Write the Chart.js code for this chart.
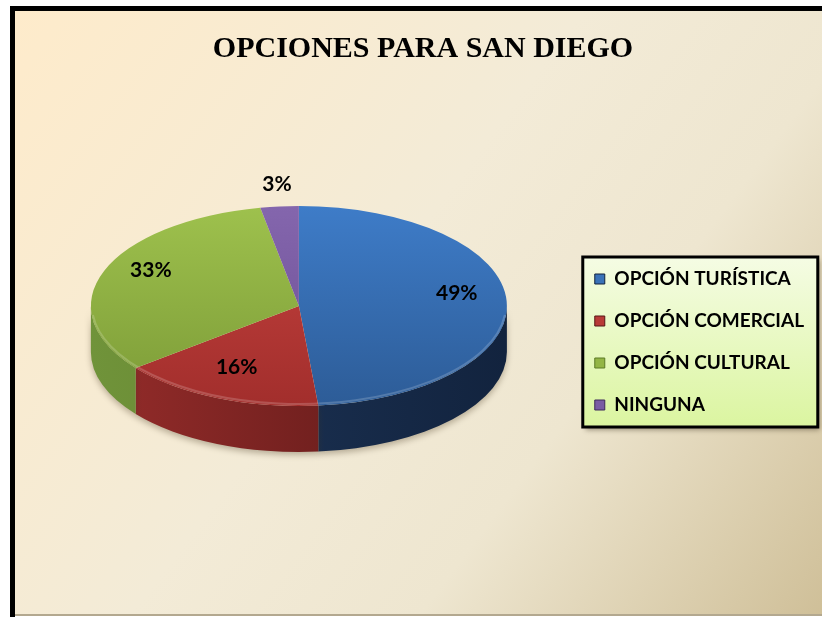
<!DOCTYPE html>
<html>
<head>
<meta charset="utf-8">
<script src="https://cdn.jsdelivr.net/npm/chart.js@4.4.1/dist/chart.umd.min.js"></script>
<style>
  html, body { margin: 0; padding: 0; background: #fff; }
  #wrap { width: 822px; height: 617px; }
</style>
</head>
<body>
<div id="wrap"><canvas id="pieChart" width="822" height="617"></canvas></div>
<script>
const chartTitle = "OPCIONES PARA SAN DIEGO";
const categories = ["OPCIÓN TURÍSTICA", "OPCIÓN COMERCIAL", "OPCIÓN CULTURAL", "NINGUNA"];
const percentages = [49, 16, 33, 3];

// top face [light, dark], side wall [light, dark], legend swatch
const topColors = [["#3e7cc8", "#2d5c97"], ["#c6433f", "#a22e2c"], ["#9ec14d", "#7c9b37"], ["#8466ad", "#6b4d94"]];
const sideColors = [["#1f385c", "#12233e"], ["#952c2a", "#561716"], ["#70933a", "#5c7a27"], ["#503872", "#3e2a5a"]];
const legendColors = ["#3a72b8", "#b83a37", "#93b545", "#7a5ca3"];

const PIE_CY = 306;    // screen centre of the top face
const PIE_RY = 100;    // vertical radius of the top face
const PIE_DEPTH = 46;  // thickness of the pie
const PIE_R = 208;

function topGradient(c) {
    const chart = c.chart;
    const area = chart.chartArea;
    const i = c.dataIndex;
    if (!area) return legendColors[i];
    const cy = (area.top + area.bottom) / 2;
    const g = chart.ctx.createLinearGradient(0, cy - PIE_R, 0, cy + PIE_R);
    g.addColorStop(0, topColors[i][0]);
    g.addColorStop(1, topColors[i][1]);
    return g;
}

const pie3d = {
    id: "pie3d",
    beforeDraw(chart) {
        const ctx = chart.ctx;
        ctx.save();
        // page and frame
        ctx.fillStyle = "#fff";
        ctx.fillRect(0, 0, 822, 617);
        const bg = ctx.createLinearGradient(15, 11, 822, 617);
        bg.addColorStop(0, "#feebcb");
        bg.addColorStop(0.45, "#f3ebd7");
        bg.addColorStop(0.68, "#eee6d0");
        bg.addColorStop(1, "#cfbf98");
        ctx.fillStyle = bg;
        ctx.fillRect(15, 11, 807, 603);
        ctx.fillStyle = "#000";
        ctx.fillRect(10, 6, 5, 611);
        ctx.fillRect(10, 6, 812, 5);
        ctx.fillStyle = "#b3a88f";
        ctx.fillRect(15, 614, 807, 2);

        // title
        ctx.fillStyle = "#000";
        ctx.font = "bold 30px 'Liberation Serif'";
        ctx.textAlign = "center";
        ctx.textBaseline = "alphabetic";
        ctx.fillText(chartTitle, 423, 57);

        // legend frame
        const boxes = chart.legend.legendHitBoxes;
        if (boxes && boxes.length) {
            const first = boxes[0], last = boxes[boxes.length - 1];
            const left = first.left - 12;
            const top = first.top + first.height / 2 - 22;
            const bottom = last.top + last.height / 2 + 22;
            const w = 235, h = bottom - top;
            ctx.shadowColor = "rgba(60,50,30,0.45)";
            ctx.shadowBlur = 5;
            ctx.shadowOffsetX = 2;
            ctx.shadowOffsetY = 3;
            const lg = ctx.createLinearGradient(0, top, 0, bottom);
            lg.addColorStop(0, "#f5fce4");
            lg.addColorStop(1, "#dbf5a0");
            ctx.fillStyle = lg;
            ctx.fillRect(left, top, w, h);
            ctx.shadowColor = "transparent";
            ctx.lineWidth = 3;
            ctx.strokeStyle = "#000";
            ctx.strokeRect(left, top, w, h);
        }
        ctx.restore();
    },
    beforeDatasetsDraw(chart) {
        const ctx = chart.ctx;
        const arcs = chart.getDatasetMeta(0).data;
        if (!arcs.length) return;
        const cx = arcs[0].x, cy = arcs[0].y, R = arcs[0].outerRadius;

        // side walls on the front half
        ctx.save();
        ctx.shadowColor = "rgba(70,55,30,0.35)";
        ctx.shadowBlur = 6;
        ctx.shadowOffsetY = 3;
        arcs.forEach((arc, i) => {
            const a0 = Math.max(arc.startAngle, 0);
            const a1 = Math.min(arc.endAngle, Math.PI);
            if (a1 <= a0) return;
            const g = ctx.createLinearGradient(cx - R, 0, cx + R, 0);
            g.addColorStop(0, sideColors[i][0]);
            g.addColorStop(1, sideColors[i][1]);
            ctx.beginPath();
            ctx.ellipse(cx, PIE_CY + PIE_DEPTH, R, PIE_RY, 0, a0, a1);
            ctx.lineTo(cx + R * Math.cos(a1), PIE_CY + PIE_RY * Math.sin(a1));
            ctx.ellipse(cx, PIE_CY, R, PIE_RY, 0, a1, a0, true);
            ctx.closePath();
            ctx.fillStyle = g;
            ctx.fill();
        });
        ctx.restore();

        // squash the flat pie into the top face
        ctx.save();
        ctx.translate(0, PIE_CY);
        ctx.scale(1, PIE_RY / R);
        ctx.translate(0, -cy);
    },
    afterDatasetsDraw(chart) {
        const ctx = chart.ctx;
        const arcs = chart.getDatasetMeta(0).data;
        if (!arcs.length) return;
        ctx.restore();
        const cx = arcs[0].x, R = arcs[0].outerRadius;

        // soft rim on the front edge
        ctx.save();
        ctx.beginPath();
        ctx.ellipse(cx, PIE_CY - 1, R - 1, PIE_RY - 1, 0, 0.1, Math.PI - 0.1);
        ctx.strokeStyle = "rgba(255,255,255,0.18)";
        ctx.lineWidth = 2;
        ctx.stroke();
        ctx.restore();

        // value labels
        const total = percentages.reduce((a, b) => a + b, 0);
        ctx.save();
        ctx.font = "bold 21px Lato";
        ctx.fillStyle = "#000";
        ctx.textAlign = "center";
        ctx.textBaseline = "middle";
        arcs.forEach((arc, i) => {
            const mid = (arc.startAngle + arc.endAngle) / 2;
            const f = percentages[i] / total < 0.05 ? 1.13 : 0.76;
            const x = cx + R * f * Math.cos(mid);
            const y = PIE_CY + PIE_RY * f * Math.sin(mid) - 9;
            ctx.fillText(percentages[i] + "%", x, y);
        });
        ctx.restore();
    }
};

new Chart(document.getElementById("pieChart"), {
    type: "pie",
    data: {
        labels: categories,
        datasets: [{
            data: percentages,
            backgroundColor: topGradient,
            borderWidth: 0,
            radius: PIE_R,
            clip: false
        }]
    },
    options: {
        responsive: false,
        devicePixelRatio: 1,
        animation: false,
        layout: { padding: { left: 26, right: 8, top: 70, bottom: 3 } },
        plugins: {
            title: { display: false },
            tooltip: { enabled: false },
            legend: {
                position: "right",
                align: "center",
                labels: {
                    boxWidth: 10,
                    boxHeight: 10,
                    padding: 23,
                    color: "#000",
                    font: { family: "Lato", size: 19, weight: "bold" },
                    generateLabels: () => categories.map((c, i) => ({
                        text: c,
                        fillStyle: legendColors[i],
                        strokeStyle: sideColors[i][1],
                        lineWidth: 1,
                        hidden: false,
                        index: i,
                        fontColor: "#000"
                    }))
                }
            }
        }
    },
    plugins: [pie3d]
});
</script>
</body>
</html>
